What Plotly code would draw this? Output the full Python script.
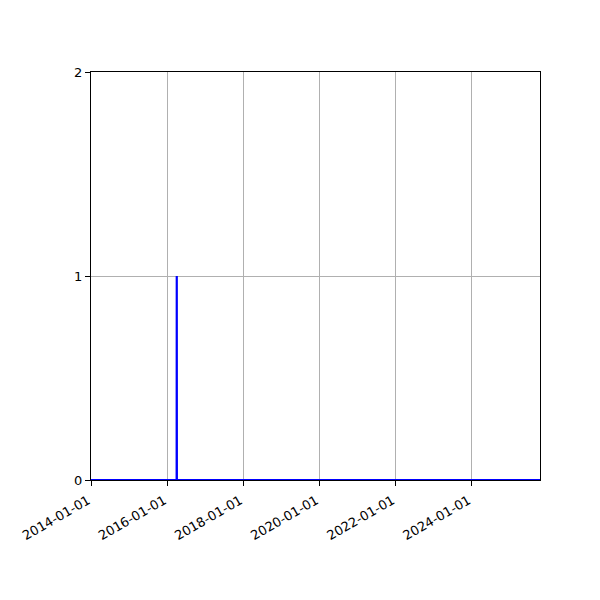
import plotly.graph_objects as go

# daily-ish counts, zero everywhere except one day
dates = ["2014-01-01", "2016-04-02", "2016-04-03", "2016-04-04", "2025-10-19"]
counts = [0, 0, 1, 0, 0]

tick_vals = ["2014-01-01", "2016-01-01", "2018-01-01", "2020-01-01", "2022-01-01", "2024-01-01"]
tick_text = tick_vals

fig = go.Figure()
fig.add_trace(go.Scatter(
    x=dates, y=counts, mode="lines",
    line=dict(color="blue", width=2.2),
    showlegend=False,
))

axis_common = dict(
    showline=True, linecolor="black", linewidth=1.2, mirror=True,
    ticks="outside", ticklen=5, tickcolor="black",
    showgrid=True, gridcolor="#b0b0b0", gridwidth=0.8,
    zeroline=False,
    tickfont=dict(family="DejaVu Sans", size=13, color="black"),
)

# page body has an 8px margin, so margins are shifted to compensate
fig.update_layout(
    width=600, height=600,
    margin=dict(l=83, r=68, t=64, b=128),
    plot_bgcolor="white", paper_bgcolor="white",
    xaxis=dict(
        type="date", range=["2014-01-01", "2025-10-19"],
        tickvals=tick_vals, ticktext=tick_text, tickangle=-30,
        ticklabelshift=-3, ticklabelstandoff=2,
        **axis_common,
    ),
    yaxis=dict(
        range=[0, 2], tickvals=[0, 1, 2],
        **axis_common,
    ),
)

fig.write_html("out.html")
